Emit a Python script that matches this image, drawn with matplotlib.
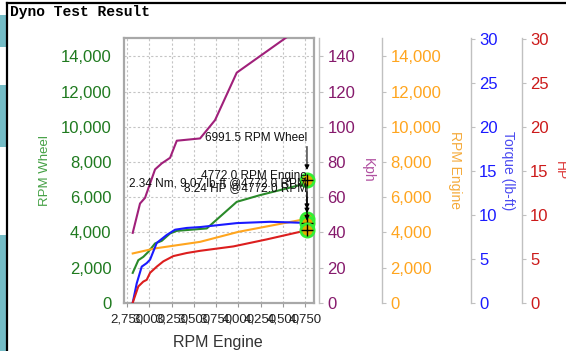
import matplotlib
matplotlib.use('Agg')
import matplotlib.pyplot as plt
from matplotlib.ticker import FuncFormatter, MultipleLocator
from matplotlib.patches import Rectangle
from matplotlib.lines import Line2D

plt.rcParams['font.family'] = ['Liberation Sans', 'DejaVu Sans']

# Dyno run samples (x = engine RPM)
wheel_x = [2814, 2877, 2933, 2989, 3065, 3140, 3234, 3309, 3646, 3983, 4245, 4545, 4700, 4772]
wheel_rpm = [1696, 2418, 2606, 2890, 3368, 3516, 3937, 4085, 4222, 5735, 6117, 6498, 6700, 6991.5]

kph_x = [2814, 2896, 2952, 3065, 3140, 3234, 3309, 3571, 3739, 3983, 4526, 4772]
kph = [39.7, 56.4, 59.6, 75.8, 79.2, 82.4, 92.1, 93.4, 103.8, 130.8, 150.3, 159.0]

engine_x = [2814, 3065, 3571, 4001, 4772]
engine_rpm = [2800, 3087, 3460, 4028, 4772]

torque_x = [2814, 2859, 2915, 2971, 3009, 3084, 3196, 3290, 3421, 3571, 3983, 4357, 4772]
torque = [0, 2.2, 4.1, 4.5, 4.9, 6.8, 7.7, 8.3, 8.5, 8.6, 9.05, 9.2, 9.07]

hp_x = [2814, 2877, 2933, 2971, 3009, 3084, 3158, 3270, 3421, 3571, 3945, 4320, 4772]
hp = [0, 1.85, 2.4, 2.6, 3.4, 4.1, 4.7, 5.3, 5.65, 5.9, 6.4, 7.2, 8.24]

# peak readout
peak_rpm = 4772.0
peak_wheel = 6991.5
peak_torque = 9.07
peak_torque_nm = 2.34
peak_hp = 8.24

x_ticks = [2750, 3000, 3250, 3500, 3750, 4000, 4250, 4500, 4750]

C_WHEEL = '#2a8a2a'
C_KPH = '#a0207a'
C_ENG = '#ffa51e'
C_TQ = '#1a1aff'
C_HP = '#dc1e1e'

comma = FuncFormatter(lambda v, p: f'{v:,.0f}')

fig = plt.figure(figsize=(5.66, 3.51), dpi=100)
ax = fig.add_axes([124 / 566, 1 - 302.7 / 351, 190 / 566, 264.7 / 351])

# left teal swoosh + black frame
for y0, h in [(15, 32), (85, 62), (235, 116)]:
    fig.patches.append(Rectangle((0, 1 - (y0 + h) / 351), 6 / 566, h / 351,
                                 transform=fig.transFigure, color='#74bcc6', lw=0))
fig.lines.append(Line2D([7 / 566, 1], [1 - 3 / 351] * 2, transform=fig.transFigure, color='black', lw=1.6))
fig.lines.append(Line2D([7 / 566] * 2, [0, 1 - 3 / 351], transform=fig.transFigure, color='black', lw=1.6))
fig.text(10 / 566, 1 - 12 / 351, 'Dyno Test Result', family='Liberation Mono', weight='bold',
         fontsize=10.5, va='center', ha='left')

# main axis: wheel RPM
ax.plot(wheel_x, wheel_rpm, color=C_WHEEL, lw=1.5, zorder=3)
ax.set_xlim(2716, 4851)
ax.set_ylim(0, 15050)
ax.set_xticks(x_ticks)
ax.xaxis.set_major_formatter(comma)
ax.yaxis.set_major_locator(MultipleLocator(2000))
ax.yaxis.set_major_formatter(comma)
ax.grid(True, color='#c4c4c4', ls=(0, (2, 2)), lw=0.8)
for s in ax.spines.values():
    s.set_color('#a8a8a8')
    s.set_linewidth(1.6)
ax.tick_params(axis='y', length=0, pad=9, labelsize=12, labelcolor='#1f7a1f')
ax.tick_params(axis='x', length=3, color='#999999', pad=5, labelsize=9.5, labelcolor='#222222')
ax.text(-0.416, 0.5, 'RPM Wheel', transform=ax.transAxes, rotation=90, ha='center', va='center',
        color='#44a044', fontsize=9.5)
ax.text(0.495, -0.152, 'RPM Engine', transform=ax.transAxes, ha='center', va='center',
        color='#333333', fontsize=11.5)


def side_axis(pos, ylim, step, color, label, label_x, label_color, fmt=None):
    a = ax.twinx()
    a.set_ylim(*ylim)
    for k in ('top', 'bottom', 'left'):
        a.spines[k].set_visible(False)
    a.spines['right'].set_position(('axes', pos))
    a.spines['right'].set_color('#c0c0c0')
    a.spines['right'].set_linewidth(1.0)
    a.yaxis.set_major_locator(MultipleLocator(step))
    if fmt is not None:
        a.yaxis.set_major_formatter(fmt)
    a.tick_params(axis='y', length=3, color='#c0c0c0', pad=3, labelsize=12, labelcolor=color)
    a.text(label_x, 0.5, label, transform=ax.transAxes, rotation=270, ha='center', va='center',
           color=label_color, fontsize=10, clip_on=False)
    return a


ax_kph = side_axis(1.026, (0, 150.5), 20, '#861a6c', 'Kph', 1.284, '#b050a0')
ax_eng = side_axis(1.358, (0, 15050), 2000, C_ENG, 'RPM Engine', 1.742, '#f5aa3a', comma)
ax_tq = side_axis(1.825, (0, 30.1), 5, C_TQ, 'Torque (lb-ft)', 2.02, '#4a4af0')
ax_hp = side_axis(2.093, (0, 30.1), 5, '#cc1a1a', 'HP', 2.295, '#dd3c3c')

ax_kph.plot(kph_x, kph, color=C_KPH, lw=1.5)
ax_eng.plot(engine_x, engine_rpm, color=C_ENG, lw=1.5)
ax_tq.plot(torque_x, torque, color=C_TQ, lw=1.5)
ax_hp.plot(hp_x, hp, color=C_HP, lw=1.5)

# peak markers and readouts
arrow = dict(arrowstyle='-|>', color='black', lw=0.8, shrinkA=0, shrinkB=7,
             mutation_scale=7, relpos=(1.0, 0.0))
notes = [
    (ax, peak_wheel, f'{peak_wheel} RPM Wheel', 42),
    (ax_eng, peak_rpm, f'{peak_rpm:.1f} RPM Engine', 43),
    (ax_tq, peak_torque, f'{peak_torque_nm} Nm, {peak_torque} lb-ft @{peak_rpm:.1f} RPM', 40),
    (ax_hp, peak_hp, f'{peak_hp} HP @{peak_rpm:.1f} RPM', 42),
]
for a, val, txt, dy in notes:
    a.annotate(txt, xy=(peak_rpm, val), xytext=(0, dy), textcoords='offset pixels',
               ha='right', va='center', fontsize=8.5, color='#111111', arrowprops=arrow,
               annotation_clip=False, zorder=6)
for a, val, txt, dy in notes:
    a.plot([peak_rpm], [val], 'o', ms=9.5, mfc='#e0ae00', mec='#33ee33', mew=2, zorder=8, clip_on=False)
    a.plot([peak_rpm], [val], '+', ms=8, color='black', mew=1, zorder=9, clip_on=False)

fig.savefig('out.png', dpi=100)
